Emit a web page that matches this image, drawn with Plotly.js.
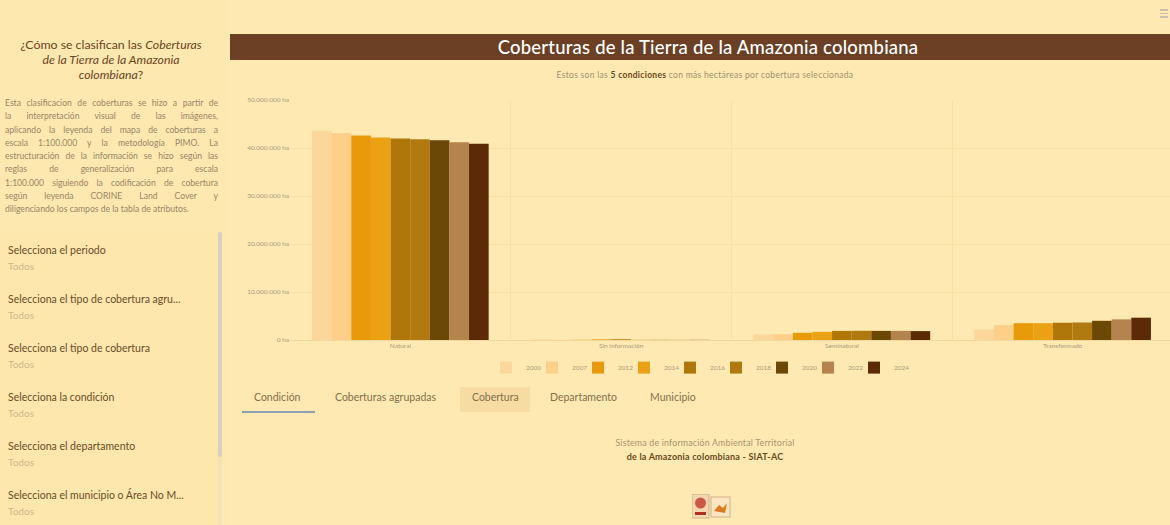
<!DOCTYPE html>
<html lang="es">
<head>
<meta charset="utf-8">
<script src="https://cdn.plot.ly/plotly-3.0.1.min.js"></script>
<style>
  html,body{margin:0;padding:0;width:1170px;height:525px;overflow:hidden;background:#fee9b2;font-family:Lato,"Open Sans",sans-serif;}
  .abs{position:absolute;}
  #left{left:0;top:0;width:228px;height:525px;background:#fde8af;}
  #ltitle{left:8px;top:37px;width:206px;text-align:center;color:#6b4422;font-size:12.3px;line-height:15px;}
  #lpara{left:5px;top:97px;width:213px;color:#9a8668;font-size:8.6px;line-height:13.25px;}
  #lpara div{text-align:justify;text-align-last:justify;white-space:nowrap;}
  #lpara div.last{text-align-last:left;}
  #list{left:0;top:230px;width:222px;height:295px;background:#fde7ac;}
  .item{position:absolute;left:8px;font-size:10.5px;color:#6a4c2a;white-space:nowrap;}
  .todos{position:absolute;left:8px;font-size:10px;color:#cdb88c;}
  #scroll{left:218px;top:232px;width:4px;height:225px;background:#d9cfc0;border-radius:2px;}
  #scrolltrack{left:218px;top:232px;width:4px;height:293px;background:#f3e2b4;}
  #tbar{left:230px;top:34px;width:940px;height:26px;background:#6b4024;color:#fff;font-size:18.5px;line-height:26px;font-weight:500;letter-spacing:0.2px;}
  #tbar span{position:absolute;left:0;width:956px;text-align:center;}
  #sub{left:230px;top:70px;width:950px;text-align:center;color:#a0906e;font-size:8.5px;letter-spacing:0.3px;}
  #sub b{color:#6b4a20;}
  .tab{position:absolute;top:391px;font-size:10.5px;color:#85704c;white-space:nowrap;}
  #tabhl{left:460px;top:387px;width:70px;height:25px;background:#f6dca2;}
  #tabul{left:242px;top:411px;width:73px;height:2px;background:#8fa2b4;}
  #foot1{left:430px;top:437px;width:550px;text-align:center;color:#a8946e;font-size:8.8px;letter-spacing:0.2px;}
  #foot2{left:430px;top:451px;width:550px;text-align:center;color:#6b4a20;font-size:9px;font-weight:700;letter-spacing:0.2px;}
  #chart{left:230px;top:62px;width:943px;height:328px;}
  #menu{left:1160px;top:9px;width:8px;}
  #menu div{height:1.5px;background:#c9bfae;margin-bottom:2px;}
</style>
</head>
<body>
<div id="left" class="abs"></div>
<div id="ltitle" class="abs">¿Cómo se clasifican las <i>Coberturas</i><br><i>de la Tierra de la Amazonia</i><br><i>colombiana</i>?</div>
<div id="lpara" class="abs">
  <div>Esta clasificacion de coberturas se hizo a partir de</div>
  <div>la interpretación visual de las imágenes,</div>
  <div>aplicando la leyenda del mapa de coberturas a</div>
  <div>escala 1:100.000 y la metodología PIMO. La</div>
  <div>estructuración de la información se hizo según las</div>
  <div>reglas de generalización para escala</div>
  <div>1:100.000 siguiendo la codificación de cobertura</div>
  <div>según leyenda CORINE Land Cover y</div>
  <div class="last">diligenciando los campos de la tabla de atributos.</div>
</div>
<div id="list" class="abs">
  <div class="item" style="top:14px">Selecciona el periodo</div><div class="todos" style="top:30px">Todos</div>
  <div class="item" style="top:63px">Selecciona el tipo de cobertura agru...</div><div class="todos" style="top:79px">Todos</div>
  <div class="item" style="top:112px">Selecciona el tipo de cobertura</div><div class="todos" style="top:128px">Todos</div>
  <div class="item" style="top:161px">Selecciona la condición</div><div class="todos" style="top:177px">Todos</div>
  <div class="item" style="top:210px">Selecciona el departamento</div><div class="todos" style="top:226px">Todos</div>
  <div class="item" style="top:259px">Selecciona el municipio o Área No M...</div><div class="todos" style="top:275px">Todos</div>
</div>
<div id="scrolltrack" class="abs"></div>
<div id="scroll" class="abs"></div>
<div id="menu" class="abs"><div></div><div></div><div></div></div>
<div id="tbar" class="abs"><span>Coberturas de la Tierra de la Amazonia colombiana</span></div>
<div id="sub" class="abs">Estos son las <b>5 condiciones</b> con más hectáreas por cobertura seleccionada</div>
<div id="chart" class="abs"></div>
<div id="tabhl" class="abs"></div>
<div id="tabul" class="abs"></div>
<div class="tab" style="left:254px">Condición</div>
<div class="tab" style="left:335px">Coberturas agrupadas</div>
<div class="tab" style="left:472px">Cobertura</div>
<div class="tab" style="left:550px">Departamento</div>
<div class="tab" style="left:650px">Municipio</div>
<div id="foot1" class="abs">Sistema de información Ambiental Territorial</div>
<div id="foot2" class="abs">de la Amazonia colombiana - SIAT-AC</div>
<svg class="abs" style="left:692px;top:494px" width="40" height="28">
  <rect x="0" y="0" width="17" height="24" fill="#f4d7b0" stroke="#c9a47a" stroke-width="0.8"/>
  <circle cx="8.5" cy="9" r="5.5" fill="#c0392b" opacity="0.8"/>
  <rect x="3" y="18" width="11" height="3" fill="#b03020"/>
  <rect x="19" y="3" width="19" height="20" fill="#fbe6c4" stroke="#c9a47a" stroke-width="0.8"/>
  <path d="M22,17 L27,11 L31,14 L35,9 L33,19 Z" fill="#e07a1e"/>
</svg>
<script>
const categories = ['Natural', 'Sin información', 'Seminatural', 'Transformado'];
const years = ['2000', '2007', '2012', '2014', '2016', '2018', '2020', '2022', '2024'];
const colors = ['#fcd79c', '#fdcf88', '#e99a0a', '#eba114', '#af760a', '#b17a10', '#6c4806', '#b5834e', '#5c2a06'];
// hectares per year: [Natural, Sin información, Seminatural, Transformado]
const v2000 = [43600000, 150000, 1200000, 2200000];
const v2007 = [43100000, 40000, 1200000, 3100000];
const v2012 = [42600000, 40000, 1500000, 3500000];
const v2014 = [42200000, 150000, 1700000, 3500000];
const v2016 = [42000000, 150000, 1900000, 3600000];
const v2018 = [41800000, 30000, 1920000, 3650000];
const v2020 = [41600000, 30000, 1900000, 4000000];
const v2022 = [41200000, 30000, 1900000, 4300000];
const v2024 = [40900000, 30000, 1850000, 4650000];
const values = [v2000, v2007, v2012, v2014, v2016, v2018, v2020, v2022, v2024];

const traces = years.map((y, i) => ({
  type: 'bar', name: y, x: categories, y: values[i],
  marker: {color: colors[i]}, hoverinfo: 'none'
}));
// invisible legend spacer (no drawn marks) so the last legend label is not clipped
traces.push({type: 'scatter', mode: 'markers', name: ' ', x: categories, y: categories.map(() => null),
  marker: {color: 'rgba(0,0,0,0)', size: 1}, hoverinfo: 'none'});

const tickFont = {family: 'Lato, sans-serif', size: 6.5, color: '#aa9a7c'};
Plotly.newPlot('chart', traces, {
  width: 943, height: 328,
  margin: {l: 60, r: 0, t: 38, b: 50},
  paper_bgcolor: 'rgba(0,0,0,0)', plot_bgcolor: 'rgba(0,0,0,0)',
  separators: ',.',
  barmode: 'group', bargap: 0.2, bargroupgap: 0,
  font: {family: 'Lato, sans-serif'},
  xaxis: {type: 'category', tickson: 'boundaries', showgrid: true, gridcolor: '#f6e1a4', ticks: '', tickfont: tickFont, showline: false, zeroline: false},
  yaxis: {range: [0, 50000000], dtick: 10000000, tickformat: ',d', ticksuffix: ' ha', showgrid: true, gridcolor: '#f6e1a4', zeroline: true, zerolinecolor: '#efd79c', zerolinewidth: 1, tickfont: tickFont, ticks: ''},
  showlegend: true,
  legend: {orientation: 'h', x: 0.222, xanchor: 'left', y: -0.115, yanchor: 'middle', font: {family: 'Lato, sans-serif', size: 6.5, color: '#aa9a7c'}, itemwidth: 30, entrywidth: 1, entrywidthmode: 'pixels', traceorder: 'normal'}
}, {displayModeBar: false, staticPlot: true});
</script>
</body>
</html>
